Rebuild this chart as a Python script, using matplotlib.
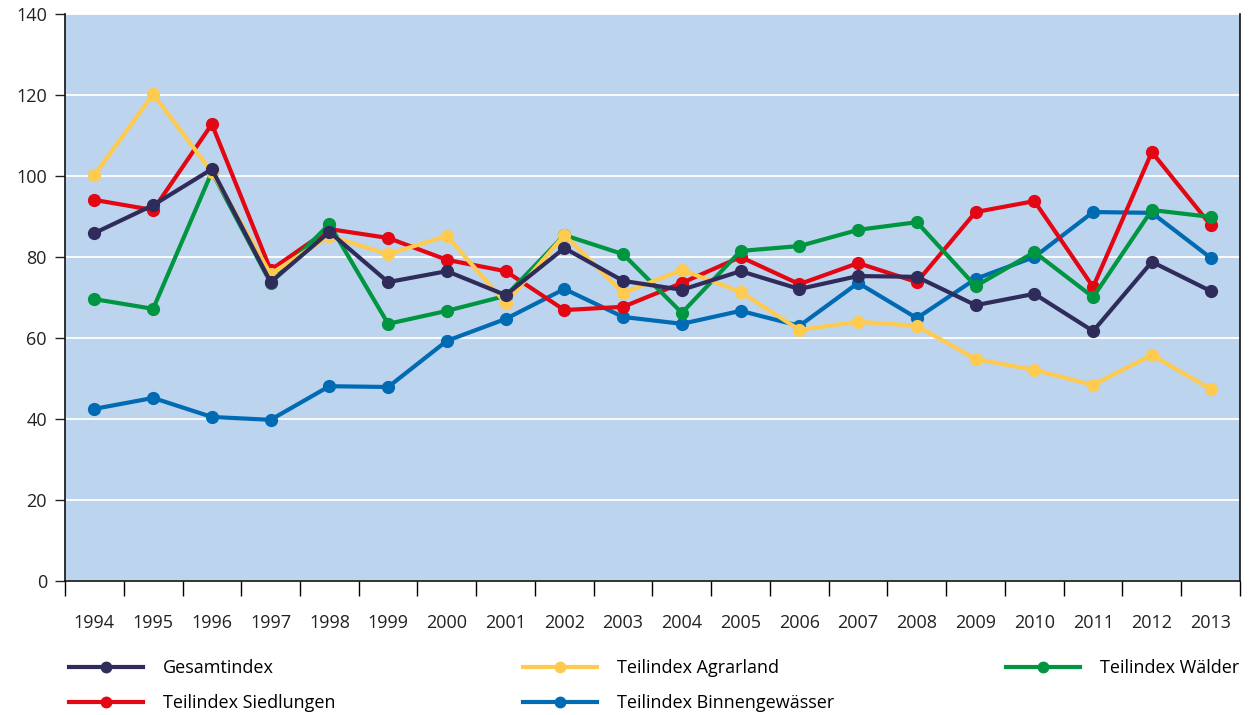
#!/usr/bin/env python3

import matplotlib
matplotlib.use('Agg')
from matplotlib import pyplot as plt
from matplotlib.lines import Line2D

years = [str(y) for y in range(1994, 2014)]

gesamt = [85.9, 92.8, 101.7, 73.8, 86.2, 73.8, 76.5, 70.6, 82.2, 74.1,
          71.9, 76.5, 72.1, 75.3, 75.1, 68.1, 70.9, 61.7, 78.8, 71.6]
agrar = [100.2, 120.2, 101.0, 75.8, 85.2, 80.7, 85.2, 68.6, 85.4, 71.1,
         76.8, 71.4, 62.0, 64.0, 63.0, 54.8, 52.1, 48.4, 55.8, 47.4]
siedlungen = [94.1, 91.6, 112.8, 76.8, 86.9, 84.7, 79.3, 76.5, 66.9, 67.7,
              73.6, 80.0, 73.3, 78.5, 73.8, 91.1, 93.8, 72.6, 105.9, 87.9]
waelder = [69.6, 67.2, 101.0, 73.6, 88.1, 63.5, 66.7, 70.4, 85.4, 80.7,
           66.2, 81.5, 82.7, 86.7, 88.6, 72.8, 81.2, 70.1, 91.6, 89.9]
binnen = [42.5, 45.2, 40.5, 39.8, 48.1, 47.9, 59.3, 64.7, 72.1, 65.2,
          63.5, 66.7, 63.0, 73.6, 64.9, 74.6, 80.0, 91.1, 90.9, 79.8]

NAVY = "#2f2c5c"
YELLOW = "#fecb50"
RED = "#e30613"
GREEN = "#009540"
BLUE = "#006ab3"

plt.rcParams['font.family'] = ['Open Sans', 'DejaVu Sans']

fig = plt.figure(figsize=(12.55, 7.15), dpi=100)
ax = fig.add_axes([65 / 1255, 134 / 715, 1175 / 1255, 567 / 715])
ax.set_facecolor("#bdd4ee")

x = list(range(len(years)))
# drawing order: bottom to top
series = [
    (binnen, BLUE),
    (siedlungen, RED),
    (waelder, GREEN),
    (agrar, YELLOW),
    (gesamt, NAVY),
]
for vals, col in series:
    ax.plot(x, vals, color=col, lw=3, marker="o", ms=8.5, zorder=3)

ax.set_xlim(-0.5, len(years) - 0.5)
ax.set_ylim(0, 140)
ax.set_yticks(range(0, 141, 20))
ax.yaxis.grid(True, color="white", lw=1.3)
ax.set_axisbelow(True)
ax.tick_params(axis="y", length=7, width=1, labelsize=13, pad=6, colors="#222222")

ax.set_xticks([i - 0.5 for i in range(len(years) + 1)])
ax.set_xticklabels([])
ax.set_xticks(x, minor=True)
ax.set_xticklabels(years, minor=True)
ax.tick_params(axis="x", which="major", length=11, width=1)
ax.tick_params(axis="x", which="minor", length=0, labelsize=13, pad=24, colors="#222222")

ax.spines["top"].set_visible(False)
for s in ("left", "bottom", "right"):
    ax.spines[s].set_linewidth(1.2)
    ax.spines[s].set_color("#111111")


def handle(col):
    return Line2D([], [], color=col, lw=3, marker="o", ms=7.5)


legend_cols = [
    ([handle(NAVY), handle(RED)], ["Gesamtindex", "Teilindex Siedlungen"], 69),
    ([handle(YELLOW), handle(BLUE)], ["Teilindex Agrarland", "Teilindex Binnengewässer"], 523),
    ([handle(GREEN)], ["Teilindex Wälder"], 1006),
]
for hs, labels, xpx in legend_cols:
    fig.legend(hs, labels, loc="upper left", bbox_to_anchor=(xpx / 1255, 1 - 659 / 715),
               frameon=False, fontsize=13, handlelength=4.1, handletextpad=1.1,
               labelspacing=0.95, borderaxespad=0, borderpad=0)

plt.savefig("out.png", dpi=100)
